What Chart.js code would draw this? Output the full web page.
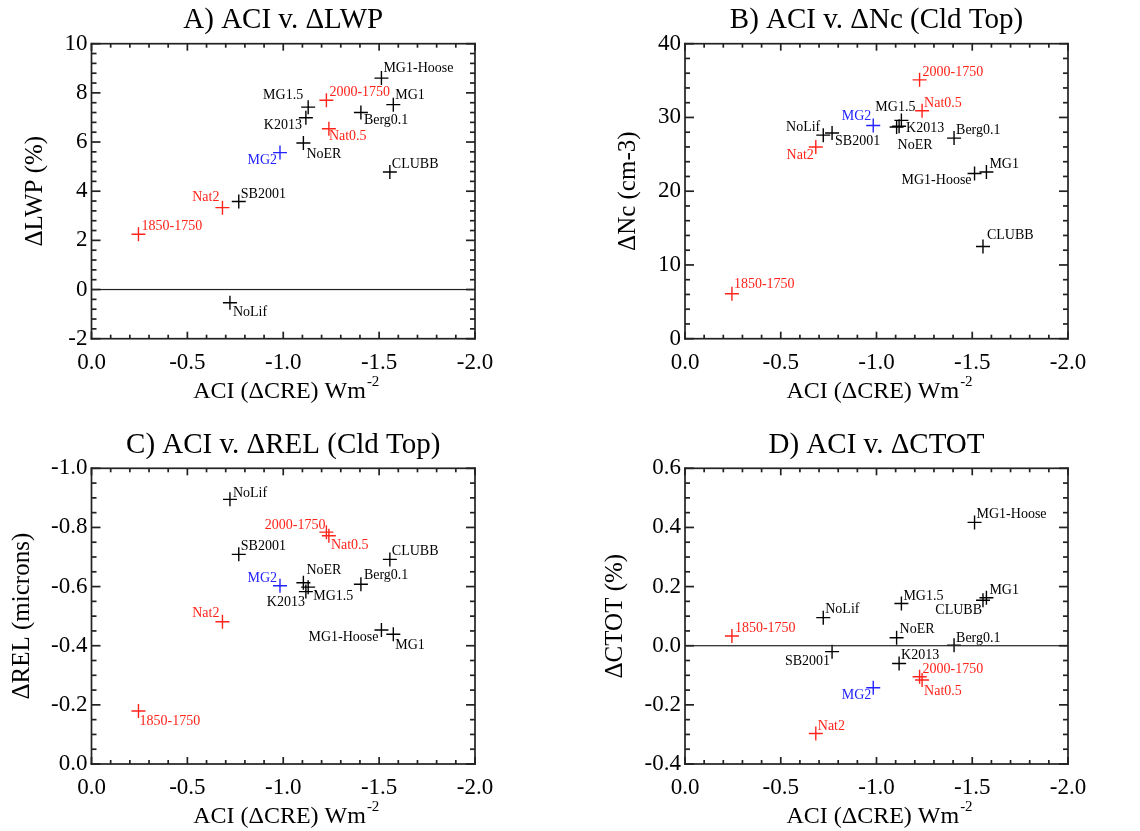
<!DOCTYPE html>
<html>
<head>
<meta charset="utf-8">
<title>ACI v. cloud property changes</title>
<script src="https://cdn.jsdelivr.net/npm/chart.js@4.4.1/dist/chart.umd.min.js"></script>
<style>
  body { margin: 0; background: #fff; }
  #wrap { position: relative; width: 1140px; height: 831px; }
  #wrap canvas { position: absolute; }
</style>
</head>
<body>
<div id="wrap">
  <canvas id="panelA" width="570" height="415" style="left:0;top:0"></canvas>
  <canvas id="panelB" width="570" height="415" style="left:570px;top:0"></canvas>
  <canvas id="panelC" width="570" height="416" style="left:0;top:415px"></canvas>
  <canvas id="panelD" width="570" height="416" style="left:570px;top:415px"></canvas>
</div>
<script>
// model runs (same order in every array below)
const runs = ['1850-1750', 'Nat2', 'NoLif', 'SB2001', 'MG2', 'NoER', 'K2013',
              'MG1.5', '2000-1750', 'Nat0.5', 'Berg0.1', 'MG1-Hoose', 'CLUBB', 'MG1'];
// ACI (dCRE) W m-2
const aci   = [-0.245, -0.683, -0.722, -0.768, -0.983, -1.105, -1.118,
               -1.130, -1.225, -1.238, -1.405, -1.512, -1.556, -1.574];
// A) dLWP (%)
const dLWP  = [2.25, 3.33, -0.54, 3.58, 5.57, 5.96, 6.99,
               7.42, 7.70, 6.54, 7.20, 8.60, 4.78, 7.52];
// B) dNc cloud top (cm-3)
const dNc   = [6.1, 26.0, 27.6, 27.9, 28.9, 28.7, 28.8,
               29.6, 35.1, 30.9, 27.2, 22.4, 12.5, 22.6];
// C) dREL cloud top (microns)
const dREL  = [-0.179, -0.481, -0.895, -0.709, -0.603, -0.613, -0.583,
               -0.598, -0.784, -0.772, -0.608, -0.453, -0.692, -0.439];
// D) dCTOT (%)
const dCTOT = [0.033, -0.297, 0.095, -0.020, -0.142, 0.027, -0.060,
               0.143, -0.105, -0.116, 0.002, 0.417, 0.154, 0.162];

const xTicks = ['0.0', '-0.5', '-1.0', '-1.5', '-2.0'];
const redRuns = ['1850-1750', 'Nat2', '2000-1750', 'Nat0.5'];
const blueRuns = ['MG2'];

// label placement per panel: [align, dx, dy] from the cross centre
const placeA = [['left',3,-8],['right',-3,-10],['left',3,10],['left',2,-7],['right',-3,8],['left',3,11],['right',-4,8],
                ['right',-5,-12],['left',3,-8],['left',0,8],['left',3,8],['left',2,-10],['left',2,-8],['left',2,-9]];
const placeB = [['left',2,-9],['right',-2,8],['right',-3,-8],['left',3,8],['right',-2,-9],['left',1,18],['left',7,2],
                ['center',-6,-13],['left',3,-8],['left',2,-7],['left',2,-8],['right',-3,7],['left',4,-11],['left',3,-8]];
const placeC = [['left',1,10],['right',-3,-8],['left',3,-6],['left',2,-8],['right',-3,-7],['left',3,-12],['right',-1,11],
                ['left',5,9],['right',-1,-7],['left',2,10],['left',3,-9],['right',-3,7],['left',2,-8],['left',2,11]];
const placeD = [['left',3,-8],['left',2,-7],['left',2,-8],['right',-2,10],['right',-2,8],['left',3,-8],['left',2,-8],
                ['left',2,-7],['left',3,-7],['left',2,11],['left',2,-7],['left',2,-8],['right',-1,10],['left',3,-7]];

const FONT = "'Liberation Serif', 'Times New Roman', serif";
Chart.defaults.font.family = FONT;
Chart.defaults.color = '#000';

function colorOf(name) {
    if (redRuns.includes(name)) return 'rgb(255,35,25)';
    if (blueRuns.includes(name)) return 'rgb(35,35,255)';
    return '#000';
}

// list of [value, isMajor] from min to max every minor step
function tickList(min, max, minor, major) {
    const out = [];
    const n = Math.round((max - min) / minor);
    for (let i = 0; i <= n; i++) {
        const v = min + i * minor;
        const r = v / major;
        out.push([v, Math.abs(r - Math.round(r)) < 1e-6]);
    }
    return out;
}

// box with inward ticks on all sides, zero line, point labels, x title with superscript
function makeFrame(p) {
    return {
        id: 'idlFrame' + p.id,
        afterDraw(chart) {
            const ctx = chart.ctx;
            const a = chart.chartArea;
            const xs = chart.scales.x, ys = chart.scales.y;
            const lw = 1.7;
            ctx.save();
            ctx.fillStyle = '#222';
            // frame
            ctx.fillRect(a.left - lw / 2, a.top - lw / 2, a.right - a.left + lw, lw);
            ctx.fillRect(a.left - lw / 2, a.bottom - lw / 2, a.right - a.left + lw, lw);
            ctx.fillRect(a.left - lw / 2, a.top - lw / 2, lw, a.bottom - a.top + lw);
            ctx.fillRect(a.right - lw / 2, a.top - lw / 2, lw, a.bottom - a.top + lw);
            // x ticks, bottom and top
            tickList(-2, 0, 0.1, 0.5).forEach(([v, major]) => {
                const px = xs.getPixelForValue(v);
                const len = major ? 7 : 4;
                ctx.fillRect(px - lw / 2, a.bottom - len, lw, len);
                ctx.fillRect(px - lw / 2, a.top, lw, len);
            });
            // y ticks, left and right
            tickList(p.yMin, p.yMax, p.yMinor, p.yStep).forEach(([v, major]) => {
                const py = ys.getPixelForValue(v);
                const len = major ? 9 : 5;
                ctx.fillRect(a.left, py - lw / 2, len, lw);
                ctx.fillRect(a.right - len, py - lw / 2, len, lw);
            });
            if (p.zeroLine) {
                const py = ys.getPixelForValue(0);
                ctx.fillRect(a.left, py - 0.6, a.right - a.left, 1.2);
            }

            // run labels
            ctx.font = '14px ' + FONT;
            ctx.textBaseline = 'middle';
            runs.forEach((name, i) => {
                const [align, dx, dy] = p.place[i];
                ctx.fillStyle = colorOf(name);
                ctx.textAlign = align;
                ctx.fillText(name, xs.getPixelForValue(aci[i]) + dx, ys.getPixelForValue(p.values[i]) + dy);
            });

            // x axis title: ACI (dCRE) Wm^-2
            const main = 'ACI (ΔCRE) Wm', sup = '-2';
            ctx.fillStyle = '#000';
            ctx.textAlign = 'left';
            ctx.font = '24px ' + FONT;
            const w1 = ctx.measureText(main).width;
            ctx.font = '15px ' + FONT;
            const w2 = ctx.measureText(sup).width;
            const cx = (a.left + a.right) / 2 + 3;
            const ty = a.bottom + 53;
            const x0 = cx - (w1 + w2 + 1) / 2;
            ctx.font = '24px ' + FONT;
            ctx.fillText(main, x0, ty);
            ctx.font = '15px ' + FONT;
            ctx.fillText(sup, x0 + w1 + 1, ty - 10);
            ctx.restore();
        }
    };
}

const panels = [
    {id: 'panelA', title: 'A) ACI v. ΔLWP', yTitle: 'ΔLWP (%)', values: dLWP, place: placeA,
     yMin: -2, yMax: 10, yStep: 2, yMinor: 0.4, dec: 0, reverseY: false, zeroLine: true,
     axisW: 91.5, padRight: 95, titlePad: {top: 2.6, bottom: 6.3}, yTitlePad: 20, axisH: 76.3},
    {id: 'panelB', title: 'B) ACI v. ΔNc (Cld Top)', yTitle: 'ΔNc (cm-3)', values: dNc, place: placeB,
     yMin: 0, yMax: 40, yStep: 10, yMinor: 2, dec: 0, reverseY: false, zeroLine: false,
     axisW: 115, padRight: 72, titlePad: {top: 2.6, bottom: 6.3}, yTitlePad: 43, axisH: 76.3},
    {id: 'panelC', title: 'C) ACI v. ΔREL (Cld Top)', yTitle: 'ΔREL (microns)', values: dREL, place: placeC,
     yMin: -1.0, yMax: 0.0, yStep: 0.2, yMinor: 0.05, dec: 1, reverseY: true, zeroLine: false,
     axisW: 91.5, padRight: 95, titlePad: {top: 12.6, bottom: 5.9}, yTitlePad: 7, axisH: 67},
    {id: 'panelD', title: 'D) ACI v. ΔCTOT', yTitle: 'ΔCTOT (%)', values: dCTOT, place: placeD,
     yMin: -0.4, yMax: 0.6, yStep: 0.2, yMinor: 0.05, dec: 1, reverseY: false, zeroLine: true,
     axisW: 115, padRight: 72, titlePad: {top: 12.6, bottom: 5.9}, yTitlePad: 30, axisH: 67}
];

panels.forEach(p => {
    new Chart(document.getElementById(p.id), {
        type: 'scatter',
        data: {
            datasets: [{
                data: aci.map((x, i) => ({x: x, y: p.values[i]})),
                pointStyle: 'cross',
                pointRadius: 7,
                pointHoverRadius: 7,
                pointBorderWidth: 1.4,
                pointBorderColor: runs.map(colorOf),
                pointBackgroundColor: runs.map(colorOf),
                showLine: false
            }]
        },
        options: {
            responsive: false,
            animation: false,
            layout: {padding: {left: 0, right: p.padRight, top: 0, bottom: 0}},
            plugins: {
                legend: {display: false},
                tooltip: {enabled: false},
                title: {
                    display: true, text: p.title, fullSize: false,
                    font: {size: 29, weight: 'normal'}, color: '#000',
                    padding: p.titlePad
                }
            },
            scales: {
                x: {
                    type: 'linear', min: -2, max: 0, reverse: true,
                    grid: {display: false, drawTicks: false},
                    border: {display: false},
                    ticks: {
                        stepSize: 0.5, autoSkip: false, padding: 10,
                        font: {size: 23}, color: '#000',
                        callback: (v) => xTicks[Math.round(-v / 0.5)]
                    },
                    afterFit: (s) => { s.height = p.axisH; }
                },
                y: {
                    type: 'linear', min: p.yMin, max: p.yMax, reverse: p.reverseY,
                    grid: {display: false, drawTicks: false},
                    border: {display: false},
                    ticks: {
                        stepSize: p.yStep, autoSkip: false, padding: 4,
                        font: {size: 23}, color: '#000',
                        callback: (v) => Number(v).toFixed(p.dec)
                    },
                    title: {
                        display: true, text: p.yTitle, color: '#000',
                        font: {size: 25}, padding: {top: p.yTitlePad, bottom: 0}
                    },
                    afterFit: (s) => { s.width = p.axisW; }
                }
            }
        },
        plugins: [makeFrame(p)]
    });
});
</script>
</body>
</html>
